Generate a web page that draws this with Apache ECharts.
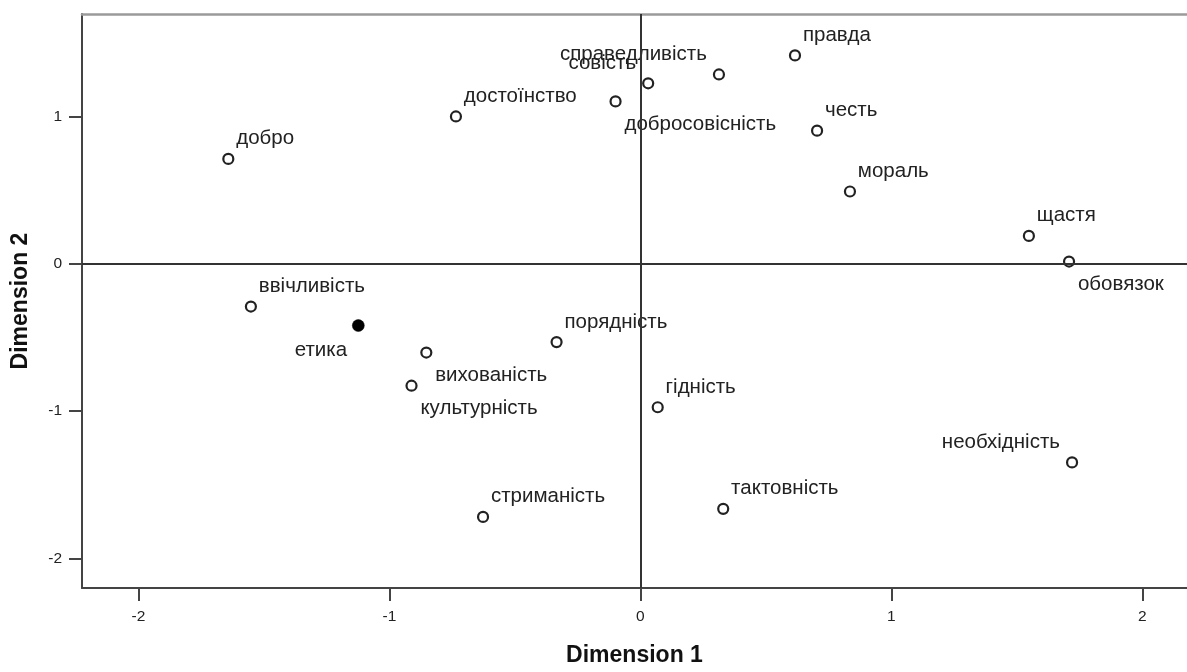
<!DOCTYPE html>
<html>
<head>
<meta charset="utf-8">
<script src="https://cdn.jsdelivr.net/npm/echarts@6/dist/echarts.min.js"></script>
<style>
html,body{margin:0;padding:0;background:#fff;}
#c{width:1187px;height:672px;}
</style>
</head>
<body>
<div id="c"></div>
<script>
// ---- data ----
const terms = ["добро","достоїнство","добросовісність","совість","справедливість","правда","честь","мораль","щастя","обовязок","ввічливість","вихованість","культурність","порядність","гідність","стриманість","тактовність","необхідність"];
const dim1  = [-1.642,-0.735,-0.099,0.031,0.313,0.616,0.704,0.835,1.548,1.708,-1.552,-0.853,-0.912,-0.334,0.069,-0.627,0.330,1.720];
const dim2  = [0.711,0.999,1.101,1.224,1.284,1.413,0.903,0.490,0.189,0.015,-0.290,-0.602,-0.827,-0.531,-0.973,-1.717,-1.662,-1.347];
const focusTerm = ["етика"];
const focusDim1 = [-1.124];
const focusDim2 = [-0.419];
const tickValues = [-2,-1,0,1,2];

// label placement (style only)
const placement = {
  "добросовісність":"br","совість":"tl","справедливість":"tl","обовязок":"br",
  "вихованість":"br","культурність":"br","необхідність":"tl","етика":"bl"
};
function labelFor(name, size){
  const p = placement[name] || "tr";
  const m = {
    tr:{align:'left', d:[9,-19]},
    br:{align:'left', d:[10,24]},
    tl:{align:'right', d:[-11,-19]},
    bl:{align:'right', d:[-11,25]}
  }[p];
  return {show:true, position:[size/2 + m.d[0], size/2 + m.d[1]], align:m.align, verticalAlign:'middle', formatter:name,
          fontFamily:'Liberation Sans', fontSize:20.5, color:'#222', textBorderWidth:0, opacity:1};
}
const pts = terms.map((t,i)=>({name:t, value:[dim1[i],dim2[i]], symbolSize:10, label:labelFor(t,10)}));
const fpts = focusTerm.map((t,i)=>({name:t, value:[focusDim1[i],focusDim2[i]], symbolSize:12,
  itemStyle:{color:'#000', borderColor:'#000', borderWidth:0.5}, label:labelFor(t,12)}));

const chart = echarts.init(document.getElementById('c'), null, {renderer:'canvas'});
const axisFont = {fontFamily:'Liberation Sans', fontSize:15.5, color:'#222'};
chart.setOption({
  animation:false,
  backgroundColor:'#fff',
  grid:{left:82, right:0, top:14, bottom:76, containLabel:false},
  xAxis:[{
    type:'value', min:-2.225, max:2.178, position:'bottom',
    name:'Dimension 1', nameLocation:'middle', nameGap:56,
    nameTextStyle:{fontFamily:'Liberation Sans', fontSize:23, fontWeight:'bold', color:'#111'},
    axisLine:{show:true, onZero:false, lineStyle:{color:'#444', width:2}},
    axisTick:{show:true, length:13, customValues:tickValues, lineStyle:{color:'#444', width:2}},
    axisLabel:{show:true, margin:21, customValues:tickValues, ...axisFont},
    splitLine:{show:false}
  },{
    type:'value', min:-2.225, max:2.178, position:'top',
    axisLine:{show:true, onZero:false, lineStyle:{color:'#9a9a9a', width:2.5}},
    axisTick:{show:false}, axisLabel:{show:false}, splitLine:{show:false}
  }],
  yAxis:[{
    type:'value', min:-2.199, max:1.694, position:'left',
    name:'Dimension 2', nameLocation:'middle', nameGap:50, nameRotate:90,
    nameTextStyle:{fontFamily:'Liberation Sans', fontSize:23, fontWeight:'bold', color:'#111'},
    axisLine:{show:true, onZero:false, lineStyle:{color:'#444', width:2}},
    axisTick:{show:true, length:13, customValues:tickValues, lineStyle:{color:'#444', width:2}},
    axisLabel:{show:true, margin:20, customValues:tickValues, ...axisFont},
    splitLine:{show:false}
  }],
  series:[{
    type:'scatter', data:[], z:1,
    markLine:{silent:true, symbol:'none', animation:false, label:{show:false},
      lineStyle:{color:'#333', width:2, type:'solid'},
      data:[{xAxis:0},{yAxis:0}]}
  },{
    type:'scatter', data:pts.concat(fpts), z:3, symbol:'circle',
    itemStyle:{color:'#fff', borderColor:'#222', borderWidth:2.2, opacity:1},
    emphasis:{disabled:true}
  }]
});
</script>
</body>
</html>
